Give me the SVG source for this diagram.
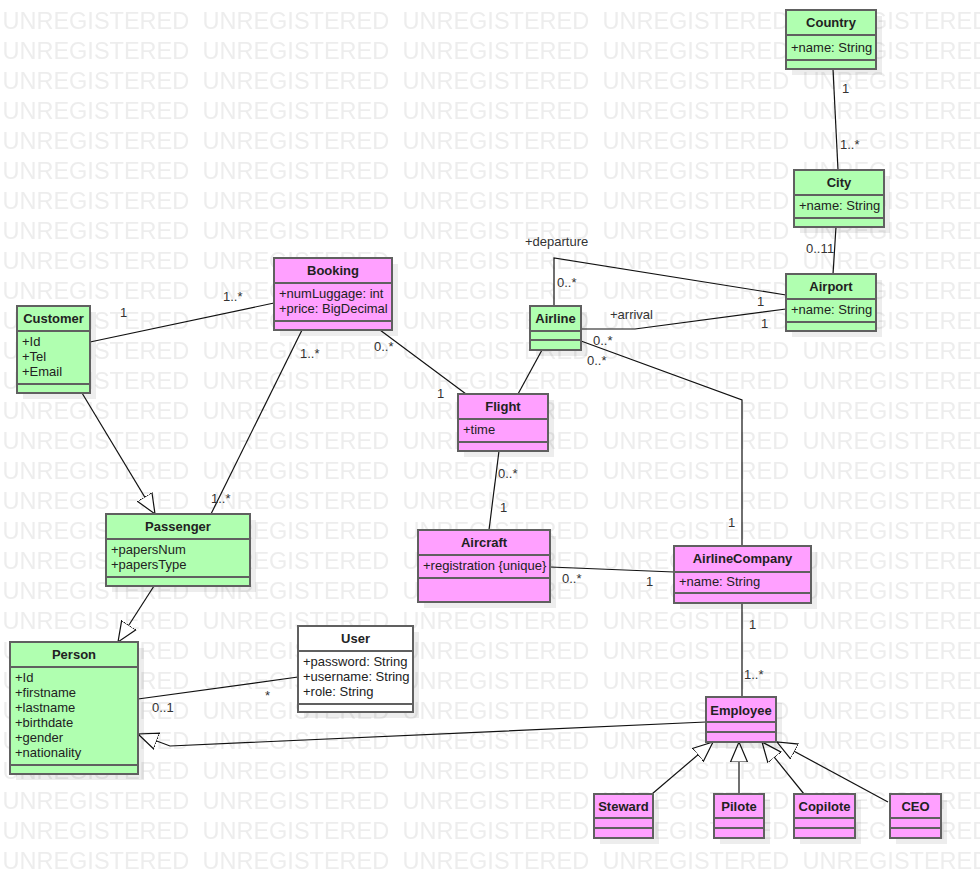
<svg xmlns="http://www.w3.org/2000/svg" width="980" height="878" viewBox="0 0 980 878">
  <defs>
    <style>
      .wm { font-family: "Liberation Sans", Arial, sans-serif; font-size: 23.5px; fill: #ededed; }
      .shadow { fill: #000; fill-opacity: 0.07; }
      .box { stroke: #606060; stroke-width: 2; }
      .green { fill: #b0ffb0; }
      .pink { fill: #ffa0ff; }
      .white { fill: #ffffff; }
      .sep { stroke: #606060; stroke-width: 2; }
      .name { font-family: "Liberation Sans", Arial, sans-serif; font-size: 13px; font-weight: bold; fill: #222; text-anchor: middle; }
      .attr { font-family: "Liberation Sans", Arial, sans-serif; font-size: 13px; fill: #222; }
      .edge { fill: none; stroke: #111; stroke-width: 1.2; }
      .gen { marker-end: url(#hollow); }
      .lbl { font-family: "Liberation Sans", Arial, sans-serif; font-size: 13px; fill: #333; }
    </style>
    <pattern id="watermark" patternUnits="userSpaceOnUse" x="0" y="0" width="200" height="30">
      <text class="wm" x="2.5" y="29">UNREGISTERED</text>
    </pattern>
    <marker id="hollow" markerUnits="userSpaceOnUse" markerWidth="24" markerHeight="22" refX="20" refY="10" orient="auto">
      <path d="M0,1.5 L20,10 L0,18.5 Z" fill="#fff" stroke="#111" stroke-width="1.2"/>
    </marker>
  </defs>

  <rect width="980" height="878" fill="#fff"/>
  <rect width="980" height="878" fill="url(#watermark)"/>

  <!-- associations and generalizations -->
  <g id="connectors">
    <line class="edge" x1="833" y1="69" x2="838" y2="170"/>
    <text class="lbl" x="842" y="93">1</text>
    <text class="lbl" x="840" y="149">1..*</text>

    <line class="edge" x1="836" y1="227" x2="833" y2="274"/>
    <text class="lbl" x="806" y="253">0..1</text>
    <text class="lbl" x="827" y="253">1</text>

    <polyline class="edge" points="554,306 554,258 786,295"/>
    <text class="lbl" x="525" y="246">+departure</text>
    <text class="lbl" x="557" y="287">0..*</text>
    <text class="lbl" x="757" y="306">1</text>

    <polyline class="edge" points="581,329 635,329 786,309"/>
    <text class="lbl" x="610" y="319">+arrival</text>
    <text class="lbl" x="761" y="328">1</text>

    <polyline class="edge" points="581,341 742,400 742,546"/>
    <text class="lbl" x="593" y="345">0..*</text>
    <text class="lbl" x="587" y="365">0..*</text>
    <text class="lbl" x="728" y="527">1</text>

    <line class="edge" x1="542" y1="350" x2="518" y2="394"/>

    <line class="edge" x1="380" y1="330" x2="466" y2="394"/>
    <text class="lbl" x="374" y="351">0..*</text>
    <text class="lbl" x="437" y="398">1</text>

    <line class="edge" x1="90" y1="342" x2="274" y2="303"/>
    <text class="lbl" x="120" y="317">1</text>
    <text class="lbl" x="223" y="301">1..*</text>

    <line class="edge" x1="302" y1="330" x2="211" y2="514"/>
    <text class="lbl" x="300" y="358">1..*</text>
    <text class="lbl" x="211" y="503">1..*</text>

    <line class="edge gen" x1="82" y1="393" x2="155" y2="514"/>
    <line class="edge gen" x1="154" y1="586" x2="118" y2="642"/>

    <line class="edge" x1="138" y1="699" x2="298" y2="677"/>
    <text class="lbl" x="265" y="700">*</text>
    <text class="lbl" x="152" y="712">0..1</text>

    <polyline class="edge gen" points="706,722 170,746 138,734"/>

    <line class="edge" x1="499" y1="451" x2="489" y2="530"/>
    <text class="lbl" x="498" y="478">0..*</text>
    <text class="lbl" x="500" y="512">1</text>

    <line class="edge" x1="550" y1="567" x2="674" y2="572"/>
    <text class="lbl" x="562" y="583">0..*</text>
    <text class="lbl" x="646" y="586">1</text>

    <line class="edge" x1="742" y1="603" x2="742" y2="697"/>
    <text class="lbl" x="749" y="629">1</text>
    <text class="lbl" x="744" y="679">1..*</text>

    <line class="edge gen" x1="652" y1="794" x2="713" y2="742"/>
    <line class="edge gen" x1="739" y1="794" x2="739" y2="742"/>
    <line class="edge gen" x1="804" y1="794" x2="762" y2="742"/>
    <line class="edge gen" x1="888" y1="802" x2="777" y2="742"/>
  </g>

  <!-- classes -->
  <g id="country">
    <rect class="shadow" x="792" y="16" width="90" height="59"/>
    <rect class="box green" x="786" y="10" width="90" height="59"/>
    <line class="sep" x1="786" y1="35" x2="876" y2="35"/>
    <line class="sep" x1="786" y1="60" x2="876" y2="60"/>
    <text class="name" x="831" y="27">Country</text>
    <text class="attr" x="791" y="51.5">+name: String</text>
  </g>

  <g id="city">
    <rect class="shadow" x="800" y="176" width="90" height="57"/>
    <rect class="box green" x="794" y="170" width="90" height="57"/>
    <line class="sep" x1="794" y1="195" x2="884" y2="195"/>
    <line class="sep" x1="794" y1="218" x2="884" y2="218"/>
    <text class="name" x="839" y="187">City</text>
    <text class="attr" x="799" y="210">+name: String</text>
  </g>

  <g id="airport">
    <rect class="shadow" x="792" y="280" width="90" height="57"/>
    <rect class="box green" x="786" y="274" width="90" height="57"/>
    <line class="sep" x1="786" y1="299" x2="876" y2="299"/>
    <line class="sep" x1="786" y1="322" x2="876" y2="322"/>
    <text class="name" x="831" y="291">Airport</text>
    <text class="attr" x="791" y="314">+name: String</text>
  </g>

  <g id="airline">
    <rect class="shadow" x="536" y="312" width="51" height="44"/>
    <rect class="box green" x="530" y="306" width="51" height="44"/>
    <line class="sep" x1="530" y1="331" x2="581" y2="331"/>
    <line class="sep" x1="530" y1="340" x2="581" y2="340"/>
    <text class="name" x="555.5" y="322.5">Airline</text>
  </g>

  <g id="booking">
    <rect class="shadow" x="280" y="264" width="118" height="72"/>
    <rect class="box pink" x="274" y="258" width="118" height="72"/>
    <line class="sep" x1="274" y1="283" x2="392" y2="283"/>
    <line class="sep" x1="274" y1="321" x2="392" y2="321"/>
    <text class="name" x="333" y="275">Booking</text>
    <text class="attr" x="279" y="298">+numLuggage: int</text>
    <text class="attr" x="279" y="313">+price: BigDecimal</text>
  </g>

  <g id="customer">
    <rect class="shadow" x="23" y="312" width="73" height="87"/>
    <rect class="box green" x="17" y="306" width="73" height="87"/>
    <line class="sep" x1="17" y1="331" x2="90" y2="331"/>
    <line class="sep" x1="17" y1="384" x2="90" y2="384"/>
    <text class="name" x="53.5" y="323">Customer</text>
    <text class="attr" x="22" y="346">+Id</text>
    <text class="attr" x="22" y="361">+Tel</text>
    <text class="attr" x="22" y="376">+Email</text>
  </g>

  <g id="flight">
    <rect class="shadow" x="464" y="400" width="90" height="57"/>
    <rect class="box pink" x="458" y="394" width="90" height="57"/>
    <line class="sep" x1="458" y1="419" x2="548" y2="419"/>
    <line class="sep" x1="458" y1="442" x2="548" y2="442"/>
    <text class="name" x="503" y="411">Flight</text>
    <text class="attr" x="463" y="434">+time</text>
  </g>

  <g id="passenger">
    <rect class="shadow" x="112" y="520" width="144" height="72"/>
    <rect class="box green" x="106" y="514" width="144" height="72"/>
    <line class="sep" x1="106" y1="539" x2="250" y2="539"/>
    <line class="sep" x1="106" y1="577" x2="250" y2="577"/>
    <text class="name" x="178" y="531">Passenger</text>
    <text class="attr" x="111" y="554">+papersNum</text>
    <text class="attr" x="111" y="569">+papersType</text>
  </g>

  <g id="person">
    <rect class="shadow" x="16" y="648" width="128" height="132"/>
    <rect class="box green" x="10" y="642" width="128" height="132"/>
    <line class="sep" x1="10" y1="667" x2="138" y2="667"/>
    <line class="sep" x1="10" y1="765" x2="138" y2="765"/>
    <text class="name" x="74" y="659">Person</text>
    <text class="attr" x="15" y="682">+Id</text>
    <text class="attr" x="15" y="697">+firstname</text>
    <text class="attr" x="15" y="712">+lastname</text>
    <text class="attr" x="15" y="727">+birthdate</text>
    <text class="attr" x="15" y="742">+gender</text>
    <text class="attr" x="15" y="757">+nationality</text>
  </g>

  <g id="user">
    <rect class="shadow" x="304" y="632" width="115" height="86"/>
    <rect class="box white" x="298" y="626" width="115" height="86"/>
    <line class="sep" x1="298" y1="651" x2="413" y2="651"/>
    <line class="sep" x1="298" y1="704" x2="413" y2="704"/>
    <text class="name" x="355.5" y="643">User</text>
    <text class="attr" x="303" y="666">+password: String</text>
    <text class="attr" x="303" y="681">+username: String</text>
    <text class="attr" x="303" y="696">+role: String</text>
  </g>

  <g id="aircraft">
    <rect class="shadow" x="424" y="536" width="132" height="72"/>
    <rect class="box pink" x="418" y="530" width="132" height="72"/>
    <line class="sep" x1="418" y1="555" x2="550" y2="555"/>
    <line class="sep" x1="418" y1="578" x2="550" y2="578"/>
    <text class="name" x="484" y="547">Aircraft</text>
    <text class="attr" x="423" y="570">+registration {unique}</text>
  </g>

  <g id="airline-company">
    <rect class="shadow" x="680" y="552" width="137" height="57"/>
    <rect class="box pink" x="674" y="546" width="137" height="57"/>
    <line class="sep" x1="674" y1="572" x2="811" y2="572"/>
    <line class="sep" x1="674" y1="593" x2="811" y2="593"/>
    <text class="name" x="742.5" y="563">AirlineCompany</text>
    <text class="attr" x="679" y="586">+name: String</text>
  </g>

  <g id="employee">
    <rect class="shadow" x="712" y="703" width="70" height="45"/>
    <rect class="box pink" x="706" y="697" width="70" height="45"/>
    <line class="sep" x1="706" y1="722" x2="776" y2="722"/>
    <line class="sep" x1="706" y1="732" x2="776" y2="732"/>
    <text class="name" x="741" y="714.5">Employee</text>
  </g>

  <g id="steward">
    <rect class="shadow" x="600" y="800" width="59" height="44"/>
    <rect class="box pink" x="594" y="794" width="59" height="44"/>
    <line class="sep" x1="594" y1="818" x2="653" y2="818"/>
    <line class="sep" x1="594" y1="828" x2="653" y2="828"/>
    <text class="name" x="623.5" y="811">Steward</text>
  </g>

  <g id="pilote">
    <rect class="shadow" x="720" y="800" width="50" height="44"/>
    <rect class="box pink" x="714" y="794" width="50" height="44"/>
    <line class="sep" x1="714" y1="818" x2="764" y2="818"/>
    <line class="sep" x1="714" y1="828" x2="764" y2="828"/>
    <text class="name" x="739" y="811">Pilote</text>
  </g>

  <g id="copilote">
    <rect class="shadow" x="800" y="800" width="61" height="44"/>
    <rect class="box pink" x="794" y="794" width="61" height="44"/>
    <line class="sep" x1="794" y1="818" x2="855" y2="818"/>
    <line class="sep" x1="794" y1="828" x2="855" y2="828"/>
    <text class="name" x="824.5" y="811">Copilote</text>
  </g>

  <g id="ceo">
    <rect class="shadow" x="896" y="800" width="51" height="44"/>
    <rect class="box pink" x="890" y="794" width="51" height="44"/>
    <line class="sep" x1="890" y1="818" x2="941" y2="818"/>
    <line class="sep" x1="890" y1="828" x2="941" y2="828"/>
    <text class="name" x="915.5" y="811">CEO</text>
  </g>
</svg>
